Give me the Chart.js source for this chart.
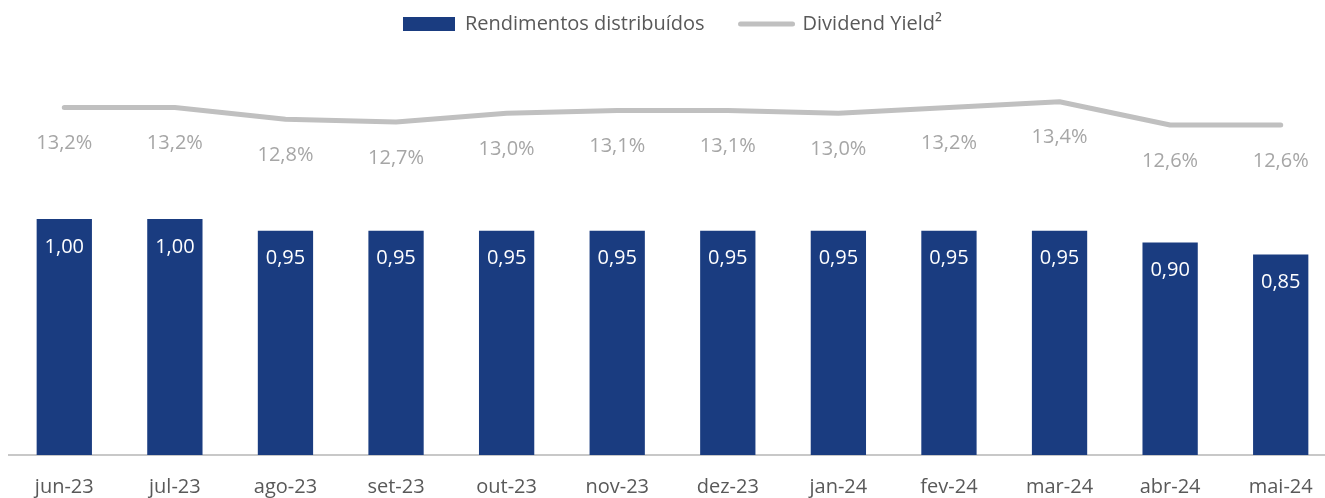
<!DOCTYPE html>
<html>
<head>
<meta charset="utf-8">
<script src="https://cdn.jsdelivr.net/npm/chart.js@4/dist/chart.umd.min.js"></script>
<style>
    html, body { margin: 0; padding: 0; background: #fff; overflow: hidden; }
    #wrap { position: relative; width: 1346px; height: 498px; }
</style>
</head>
<body>
<div id="wrap"><canvas id="chart"></canvas></div>
<script>
const months = ['jun-23', 'jul-23', 'ago-23', 'set-23', 'out-23', 'nov-23', 'dez-23', 'jan-24', 'fev-24', 'mar-24', 'abr-24', 'mai-24'];
const rendimentos = [1.00, 1.00, 0.95, 0.95, 0.95, 0.95, 0.95, 0.95, 0.95, 0.95, 0.90, 0.85];
const dividendYield = [13.2, 13.2, 12.8, 12.7, 13.0, 13.1, 13.1, 13.0, 13.2, 13.4, 12.6, 12.6];

const FONT = "'Open Sans', 'Noto Sans', sans-serif";
const BAR_COLOR = '#1a3c80';
const LINE_COLOR = '#c0c0c0';

const fmt = (v, d) => v.toFixed(d).replace('.', ',');

// draws the value labels (no datalabels plugin available offline)
const valueLabels = {
    id: 'valueLabels',
    afterDatasetsDraw(chart) {
        const ctx = chart.ctx;
        ctx.save();
        ctx.font = '20px ' + FONT;
        ctx.textAlign = 'center';
        ctx.textBaseline = 'middle';

        const bars = chart.getDatasetMeta(0).data;
        ctx.fillStyle = '#ffffff';
        bars.forEach((b, i) => ctx.fillText(fmt(rendimentos[i], 2), b.x, b.y + 28));

        const pts = chart.getDatasetMeta(1).data;
        ctx.fillStyle = '#a6a6a6';
        pts.forEach((p, i) => ctx.fillText(fmt(dividendYield[i], 1) + '%', p.x, p.y + 36));
        ctx.restore();
    }
};

new Chart(document.getElementById('chart'), {
    type: 'bar',
    data: {
        labels: months,
        datasets: [
            {
                label: 'Rendimentos distribuídos',
                data: rendimentos,
                backgroundColor: BAR_COLOR,
                borderWidth: 0,
                barPercentage: 0.5,
                categoryPercentage: 1.0,
                yAxisID: 'y',
                order: 2
            },
            {
                type: 'line',
                label: 'Dividend Yield²',
                data: dividendYield,
                borderColor: LINE_COLOR,
                backgroundColor: LINE_COLOR,
                borderWidth: 5,
                borderCapStyle: 'round',
                borderJoinStyle: 'round',
                pointRadius: 0,
                tension: 0,
                yAxisID: 'y1',
                order: 1
            }
        ]
    },
    options: {
        responsive: true,
        maintainAspectRatio: false,
        animation: false,
        layout: { padding: { top: -22, left: 9, right: 10, bottom: -21 } },
        plugins: {
            tooltip: { enabled: false },
            legend: {
                position: 'top',
                labels: {
                    font: { family: FONT, size: 20 },
                    color: '#595959',
                    usePointStyle: true,
                    pointStyleWidth: 52,
                    boxHeight: 14,
                    padding: 36,
                    generateLabels(chart) {
                        return chart.data.datasets.map((ds, i) => ({
                            text: ds.label,
                            fillStyle: ds.backgroundColor,
                            strokeStyle: i === 0 ? BAR_COLOR : LINE_COLOR,
                            lineWidth: i === 0 ? 0 : 5,
                            lineCap: 'round',
                            pointStyle: i === 0 ? 'rect' : 'line',
                            fontColor: '#595959',
                            datasetIndex: i
                        }));
                    }
                }
            }
        },
        scales: {
            x: {
                grid: { display: false, drawTicks: false },
                border: { display: true, color: '#c8c8c8', width: 2 },
                ticks: { color: '#595959', font: { family: FONT, size: 20 }, padding: 20, maxRotation: 0 }
            },
            y: {
                display: false,
                min: 0,
                max: 1.7415
            },
            y1: {
                display: false,
                position: 'right',
                min: 1.259,
                max: 15.383
            }
        }
    },
    plugins: [valueLabels]
});
</script>
</body>
</html>
